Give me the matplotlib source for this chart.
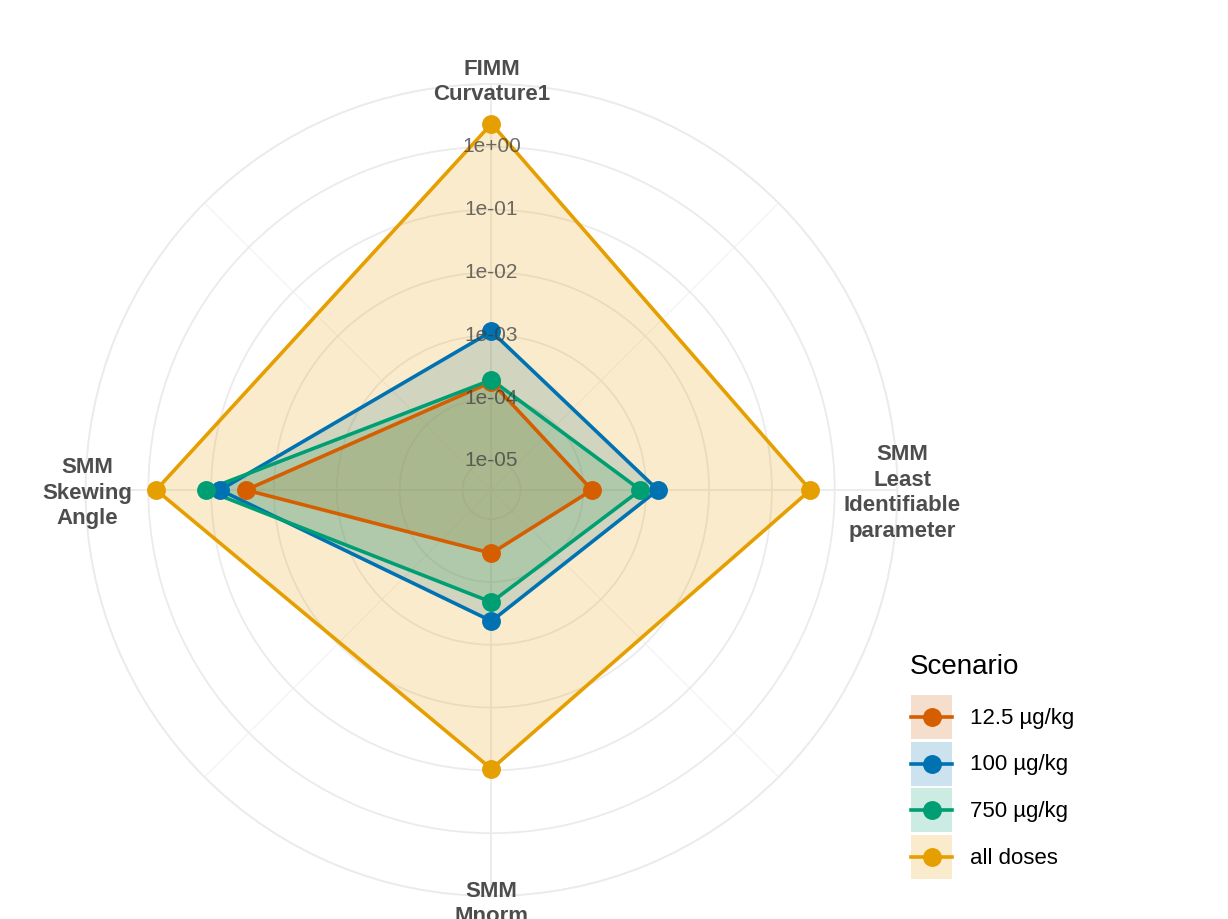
import numpy as np
import matplotlib
matplotlib.use("Agg")
import matplotlib.pyplot as plt
from matplotlib.patches import Patch
from matplotlib.lines import Line2D
from matplotlib.legend_handler import HandlerLine2D
from matplotlib.ticker import NullLocator
from matplotlib.transforms import offset_copy

plt.rcParams["font.family"] = ["Liberation Sans", "DejaVu Sans"]

# ---- data -------------------------------------------------------------
categories = [
    "FIMM\nCurvature1",
    "SMM\nLeast\nIdentifiable\nparameter",
    "SMM\nMnorm",
    "SMM\nSkewing\nAngle",
]
scenarios = ["12.5 µg/kg", "100 µg/kg", "750 µg/kg", "all doses"]
colors = ["#D55E00", "#0072B2", "#009E73", "#E69F00"]

vals_12_5 = [1.8e-4, 1.37e-4, 3.5e-5, 0.028]
vals_100 = [1.15e-3, 1.53e-3, 4.2e-4, 0.072]
vals_750 = [1.95e-4, 8.1e-4, 2.1e-4, 0.122]
vals_all = [2.33, 0.41, 0.095, 0.75]
series = [vals_12_5, vals_100, vals_750, vals_all]

r_breaks = [1e-5, 1e-4, 1e-3, 1e-2, 1e-1, 1e0, 1e1]
r_break_labels = ["1e-05", "1e-04", "1e-03", "1e-02", "1e-01", "1e+00"]
r_min, r_max = 10 ** -5.463, 10.0

# ---- figure / polar axes ---------------------------------------------
W, H = 1228, 919
fig = plt.figure(figsize=(W / 100, H / 100), dpi=100)
cx, cy, R = 491.5, 490.0, 406.0
ax = fig.add_axes([(cx - R) / W, (H - cy - R) / H, 2 * R / W, 2 * R / H],
                  projection="polar")
ax.set_theta_zero_location("N")
ax.set_theta_direction(-1)
ax.set_rscale("log")
ax.set_rlim(r_min, r_max)

n = len(categories)
angles = np.arange(n) * 2 * np.pi / n
ax.set_xticks(angles)
ax.set_xticklabels([])
ax.set_xticks(angles + np.pi / n, minor=True)
ax.set_yticks(r_breaks)
ax.set_yticklabels([])
ax.yaxis.set_minor_locator(NullLocator())
ax.tick_params(length=0, which="both")
grid_col = "#EBEBEB"
ax.xaxis.grid(True, which="major", color=grid_col, lw=1.3)
ax.xaxis.grid(True, which="minor", color="#F2F2F2", lw=0.8)
ax.yaxis.grid(True, which="major", color=grid_col, lw=1.3)
ax.spines["polar"].set_color(grid_col)
ax.spines["polar"].set_linewidth(1.3)
ax.set_axisbelow(True)

# ---- polygons ---------------------------------------------------------
theta_closed = np.append(angles, angles[0])
lw = 2.6
ms = 13.6
for vals, col in zip(series, colors):
    v = np.append(vals, vals[0])
    ax.fill(theta_closed, v, color=col, alpha=0.2, lw=0, zorder=2)
for vals, col in zip(series, colors):
    v = np.append(vals, vals[0])
    ax.plot(theta_closed, v, color=col, lw=lw, zorder=3,
            solid_joinstyle="miter")
for vals, col in zip(series, colors):
    ax.plot(angles, vals, "o", color=col, ms=ms, zorder=4, mew=0)

# ---- radial labels along the top spoke --------------------------------
for rv, lab in zip(r_breaks, r_break_labels):
    ax.text(0, rv, lab, ha="center", va="center", fontsize=15,
            color="#3d3d3d", alpha=0.75, zorder=6)

# ---- category labels (pixel nudges per direction) ---------------------
label_r = 10 ** 1.08
nudges = [(0, -3), (0, -3), (0, -3), (7, -3)]
for ang, lab, (dx, dy) in zip(angles, categories, nudges):
    tr = offset_copy(ax.transData, fig=fig, x=dx, y=dy, units="dots")
    ax.text(ang, label_r, lab, transform=tr, ha="center", va="center",
            fontsize=16, fontweight="bold", color="#4D4D4D",
            linespacing=1.28, clip_on=False, zorder=6)


# ---- legend -----------------------------------------------------------
class CenteredLineHandler(HandlerLine2D):
    """Legend line drawn through the vertical middle of the key box."""

    def create_artists(self, legend, orig_handle, xdescent, ydescent,
                       width, height, fontsize, trans):
        artists = super().create_artists(legend, orig_handle, xdescent,
                                         ydescent, width, height,
                                         fontsize, trans)
        for a in artists:
            a.set_ydata(np.full(len(a.get_xdata()), height / 2 - ydescent))
        return artists


handles = [
    (Patch(facecolor=c, alpha=0.2, edgecolor="none"),
     Line2D([], [], color=c, lw=lw, marker="o", ms=ms, mew=0))
    for c in colors
]
fig.text(910 / W, 1 - 667 / H, "Scenario", ha="left", va="center",
         fontsize=20, color="black")
leg = fig.legend(handles, scenarios, loc="upper left",
                 bbox_to_anchor=(891 / W, 1 - 675 / H), frameon=False,
                 fontsize=16, handlelength=1.85, handleheight=2.67,
                 labelspacing=0.12, handletextpad=0.8,
                 handler_map={Line2D: CenteredLineHandler()})

fig.savefig("out.png", dpi=100, facecolor="white")
